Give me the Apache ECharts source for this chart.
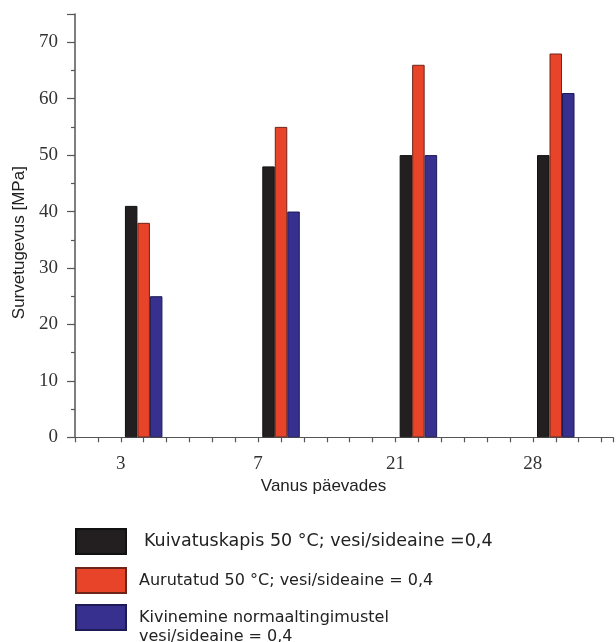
<!DOCTYPE html>
<html>
<head>
<meta charset="utf-8">
<script src="https://cdn.jsdelivr.net/npm/echarts@6/dist/echarts.min.js"></script>
<style>
html,body{margin:0;padding:0;background:#fff;}
#chart{width:616px;height:642px;}
</style>
</head>
<body>
<div id="chart"></div>
<script>
// Ages (days) on the x axis
var categories = ['3', '7', '21', '28'];
// Compressive strength [MPa]
var kuivatuskapis = [41, 48, 50, 50];
var aurutatud = [38, 55, 66, 68];
var kivinemine = [25, 40, 50, 61];
var seriesNames = [
  'Kuivatuskapis 50 °C; vesi/sideaine =0,4',
  'Aurutatud 50 °C; vesi/sideaine = 0,4',
  'Kivinemine normaaltingimustel\nvesi/sideaine = 0,4'
];
var yTicks = [0, 10, 20, 30, 40, 50, 60, 70];

// position of each category group on the x (tick-unit) axis
var groupStep = 6, groupStart = 3;
function pos(i) { return groupStart + groupStep * i; }
function pairs(arr) { return arr.map(function (v, i) { return [pos(i), v]; }); }

var chart = echarts.init(document.getElementById('chart'), null, {renderer: 'canvas'});
var colors = ['#231f20', '#e8442a', '#38308f'];
var borders = ['#111111', '#6e2418', '#1e1a55'];
var dataSets = [kuivatuskapis, aurutatud, kivinemine];

var legendTops = [528, 567, 589];
var legendPads = [[3, 0, 0, 13], [3, 0, 0, 8], [0, 0, 0, 8]];
var legendFont = [17.5, 16, 16];

chart.setOption({
  animation: false,
  grid: {left: 75, right: 0, top: 14, bottom: 204.7, containLabel: false},
  legend: seriesNames.map(function (n, k) {
    return {
      orient: 'vertical',
      left: 75,
      top: legendTops[k],
      padding: 0,
      itemWidth: 50,
      itemHeight: 25,
      icon: 'rect',
      data: [n],
      formatter: function (name) { return name.indexOf('\n') >= 0 ? '\n' + name : name; },
      textStyle: {
        fontFamily: 'DejaVu Sans',
        fontSize: legendFont[k],
        lineHeight: 19,
        color: '#222',
        padding: legendPads[k]
      }
    };
  }),
  xAxis: {
    type: 'value',
    min: 0,
    max: 23.5,
    interval: 1,
    splitLine: {show: false},
    axisLine: {show: true, lineStyle: {color: '#555', width: 1.2}},
    axisTick: {show: true, length: 5, lineStyle: {color: '#555', width: 1.2}},
    axisLabel: {
      margin: 17,
      fontFamily: 'Liberation Serif',
      fontSize: 19,
      color: '#333',
      padding: [0, 46, 0, 0],
      formatter: function (v) {
        for (var i = 0; i < categories.length; i++) {
          if (Math.abs(v - pos(i)) < 1e-6) return categories[i];
        }
        return '';
      }
    },
    name: 'Vanus päevades',
    nameLocation: 'middle',
    nameGap: 39,
    nameTextStyle: {fontFamily: 'Liberation Sans', fontSize: 17, color: '#222', padding: [0, 41, 0, 0]}
  },
  yAxis: {
    type: 'value',
    min: 0,
    max: 75,
    interval: 10,
    splitLine: {show: false},
    axisLine: {show: true, lineStyle: {color: '#555', width: 1.5}},
    axisTick: {show: true, length: 8, lineStyle: {color: '#555', width: 1.2}},
    minorTick: {show: true, splitNumber: 2, length: 4, lineStyle: {color: '#555', width: 1.2}},
    axisLabel: {
      margin: 17,
      fontFamily: 'Liberation Serif',
      fontSize: 19,
      color: '#333',
      formatter: function (v) { return yTicks.indexOf(v) >= 0 ? String(v) : ''; }
    },
    name: 'Survetugevus [MPa]',
    nameLocation: 'middle',
    nameGap: 46,
    nameTextStyle: {fontFamily: 'Liberation Sans', fontSize: 17, color: '#222', padding: [0, 34, 0, 0]}
  },
  series: dataSets.map(function (d, k) {
    return {
      type: 'bar',
      name: seriesNames[k],
      data: pairs(d),
      barWidth: 12.5,
      barGap: '0%',
      itemStyle: {color: colors[k], borderColor: borders[k], borderWidth: 1}
    };
  })
});
</script>
</body>
</html>
